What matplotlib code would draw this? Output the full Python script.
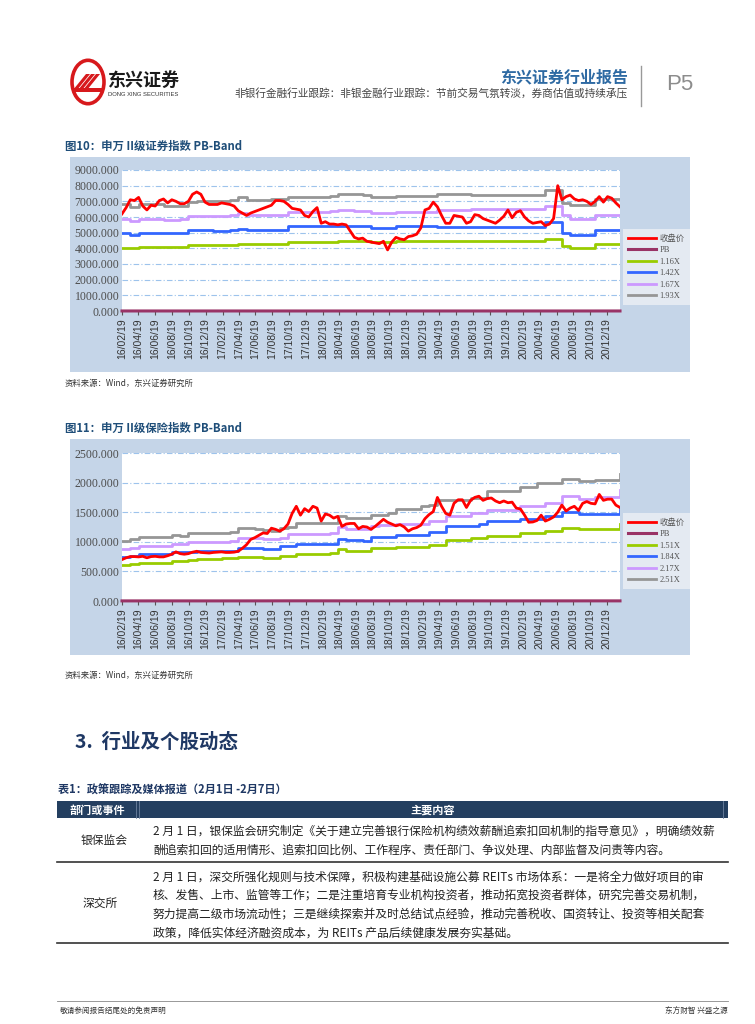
import pandas as pd
import matplotlib
matplotlib.use('Agg')
import matplotlib.pyplot as plt
from matplotlib.patches import Rectangle, Circle, Polygon
from matplotlib.lines import Line2D

plt.rcParams['font.family'] = ['Noto Sans CJK SC', 'DejaVu Sans']

W, H = 755, 1024

# ---- data ----
start_date = '2016-02-19'
end_date = '2021-02-05'
tick_labels = ['16/02/19', '16/04/19', '16/06/19', '16/08/19', '16/10/19', '16/12/19',
               '17/02/19', '17/04/19', '17/06/19', '17/08/19', '17/10/19', '17/12/19',
               '18/02/19', '18/04/19', '18/06/19', '18/08/19', '18/10/19', '18/12/19',
               '19/02/19', '19/04/19', '19/06/19', '19/08/19', '19/10/19', '19/12/19',
               '20/02/19', '20/04/19', '20/06/19', '20/08/19', '20/10/19', '20/12/19']
legend1 = ['收盘价', 'PB', '1.16X', '1.42X', '1.67X', '1.93X']
legend2 = ['收盘价', 'PB', '1.51X', '1.84X', '2.17X', '2.51X']

# chart 1: securities index (half-month samples)
close1 = [6200, 6600, 7100, 7050, 7250, 6700, 6450, 6750, 6700, 7050,
          7150, 6900, 7100, 7000, 6850, 6850, 7000, 7450, 7600, 7450,
          6950, 6800, 6800, 6800, 6900, 6850, 6800, 6700, 6400, 6250,
          6100, 6250, 6350, 6450, 6550, 6650, 6750, 7050, 7050, 7000,
          6800, 6550, 6500, 6450, 6100, 6000, 6350, 6600, 5600, 5700,
          5550, 5550, 5500, 5550, 5500, 5100, 4700, 4600, 4650, 4450,
          4400, 4350, 4300, 4450, 3900, 4400, 4700, 4600, 4550, 4750,
          4800, 4900, 5300, 6450, 6550, 6950, 6650, 6100, 5600, 5600,
          6100, 6050, 6000, 5600, 5700, 6150, 6100, 5900, 5800, 5700,
          5600, 5800, 6050, 6450, 5950, 6300, 6400, 6000, 5750, 5600,
          5650, 5700, 5450, 5550, 5900, 8000, 7100, 7300, 7400, 7150,
          7050, 7100, 7000, 6800, 7000, 7300, 6950, 7300, 7200, 6900,
          6650]
pb1 = [1.77, 1.98, 1.92, 1.99, 1.94, 1.89, 1.65, 1.55, 1.48, 1.41, 1.23,
       1.40, 1.35, 1.55, 1.53, 1.50, 1.64, 1.79, 1.83, 1.78, 1.93]
# monthly band values
band1_116 = [4050, 4000, 4100, 4100, 4100, 4100, 4100, 4100, 4200, 4200,
             4200, 4200, 4200, 4200, 4300, 4300, 4300, 4300, 4300, 4300,
             4400, 4400, 4400, 4400, 4400, 4400, 4500, 4500, 4500, 4500,
             4400, 4400, 4400, 4450, 4450, 4450, 4450, 4450, 4450, 4450,
             4450, 4450, 4450, 4450, 4450, 4450, 4450, 4450, 4450, 4450,
             4450, 4600, 4600, 4150, 4050, 4050, 4050, 4250, 4250, 4250,
             4250]
band1_142 = [4950, 4850, 5000, 5000, 5000, 4980, 4980, 4980, 5150, 5150,
             5150, 5100, 5100, 5150, 5250, 5200, 5200, 5200, 5200, 5200,
             5400, 5400, 5400, 5400, 5400, 5420, 5450, 5450, 5420, 5400,
             5300, 5300, 5300, 5400, 5400, 5400, 5400, 5400, 5350, 5350,
             5350, 5350, 5350, 5350, 5350, 5350, 5350, 5350, 5350, 5350,
             5350, 5650, 5650, 5000, 4850, 4850, 4850, 5200, 5200, 5200,
             5200]
band1_167 = [5900, 5750, 5850, 5850, 5850, 5800, 5800, 5850, 6050, 6050,
             6050, 6050, 6050, 6100, 6250, 6150, 6150, 6150, 6150, 6150,
             6350, 6350, 6350, 6350, 6350, 6400, 6450, 6450, 6400, 6400,
             6250, 6250, 6250, 6350, 6350, 6350, 6350, 6350, 6450, 6450,
             6450, 6450, 6500, 6500, 6500, 6500, 6500, 6500, 6500, 6500,
             6500, 6700, 6700, 6100, 5850, 5850, 5850, 6150, 6150, 6150,
             6150]
band1_193 = [6800, 6650, 6800, 6800, 6800, 6700, 6700, 6700, 6950, 7000,
             7000, 7000, 7000, 7100, 7250, 7100, 7100, 7100, 7150, 7150,
             7300, 7300, 7300, 7300, 7300, 7350, 7450, 7450, 7450, 7400,
             7250, 7250, 7250, 7350, 7350, 7350, 7350, 7350, 7500, 7500,
             7500, 7450, 7400, 7400, 7400, 7400, 7400, 7400, 7400, 7400,
             7400, 7700, 7700, 6900, 6750, 6750, 6750, 7150, 7150, 7150,
             7150]

# chart 2: insurance index (half-month samples)
close2 = [700, 730, 750, 750, 745, 755, 730, 750, 755, 745,
          745, 765, 790, 830, 800, 790, 800, 825, 840, 820,
          815, 810, 820, 825, 830, 820, 820, 825, 840, 890,
          950, 1040, 1070, 1110, 1150, 1140, 1230, 1210, 1180, 1220,
          1300, 1480, 1600, 1450, 1560, 1510, 1600, 1570, 1350, 1470,
          1450, 1400, 1430, 1260, 1300, 1310, 1310, 1220, 1260, 1250,
          1210, 1260, 1320, 1380, 1330, 1300, 1270, 1290, 1250, 1180,
          1220, 1240, 1280, 1390, 1460, 1510, 1750, 1600, 1480, 1450,
          1650, 1710, 1710, 1580, 1700, 1750, 1770, 1700, 1730, 1740,
          1690, 1660, 1690, 1660, 1670, 1570, 1555, 1450, 1330, 1335,
          1360, 1450, 1350, 1380, 1420, 1500, 1620, 1520, 1570, 1600,
          1530, 1650, 1680, 1650, 1640, 1800, 1700, 1720, 1720, 1620,
          1580]
pb2 = [1.70, 1.75, 1.85, 1.80, 1.75, 2.00, 2.40, 2.90, 2.60, 2.30, 2.10,
       2.30, 2.60, 2.50, 2.30, 1.90, 2.00, 2.10, 2.20, 2.30, 2.20]
band2_151 = [610, 625, 650, 650, 650, 650, 680, 680, 700, 705,
             710, 715, 720, 725, 740, 740, 735, 725, 720, 755,
             760, 800, 800, 800, 800, 805, 870, 850, 845, 840,
             890, 890, 890, 910, 910, 910, 910, 940, 940, 1030,
             1030, 1030, 1060, 1060, 1100, 1100, 1100, 1100, 1150, 1150,
             1150, 1190, 1190, 1230, 1230, 1210, 1210, 1220, 1220, 1220,
             1300]
band2_184 = [750, 760, 790, 790, 790, 790, 830, 830, 835, 840,
             840, 845, 845, 850, 900, 895, 890, 880, 880, 925,
             935, 960, 960, 960, 960, 965, 1050, 1030, 1025, 1020,
             1080, 1080, 1080, 1110, 1110, 1110, 1120, 1170, 1170, 1260,
             1260, 1260, 1260, 1300, 1350, 1350, 1350, 1350, 1390, 1390,
             1390, 1430, 1430, 1500, 1500, 1475, 1475, 1475, 1475, 1475,
             1570]
band2_217 = [880, 900, 930, 930, 930, 930, 960, 960, 990, 990,
             995, 1000, 1005, 1010, 1070, 1065, 1060, 1045, 1040, 1070,
             1130, 1130, 1135, 1140, 1140, 1150, 1250, 1220, 1215, 1210,
             1260, 1280, 1280, 1300, 1300, 1300, 1300, 1350, 1350, 1440,
             1440, 1440, 1480, 1480, 1540, 1540, 1540, 1540, 1600, 1600,
             1600, 1650, 1650, 1780, 1780, 1720, 1720, 1760, 1760, 1760,
             1870]
band2_251 = [1020, 1050, 1080, 1075, 1075, 1075, 1110, 1090, 1145, 1150,
             1150, 1150, 1155, 1160, 1230, 1225, 1215, 1200, 1185, 1230,
             1250, 1320, 1320, 1320, 1320, 1325, 1440, 1400, 1400, 1400,
             1450, 1450, 1480, 1550, 1550, 1550, 1600, 1630, 1700, 1700,
             1700, 1700, 1740, 1740, 1850, 1850, 1850, 1850, 1920, 1920,
             1990, 1990, 1990, 2060, 2060, 2030, 2030, 2040, 2040, 2040,
             2150]

colors = ['#ff0000', '#993366', '#99cc00', '#3366ff', '#cc99ff', '#969696']


def fx(x):
    return x / W


def fy(y):
    return 1 - y / H


fig = plt.figure(figsize=(W / 100, H / 100), dpi=100)


def txt(x, y, s, **kw):
    kw.setdefault('va', 'center')
    fig.text(fx(x), fy(y), s, **kw)


def rect(x0, y0, x1, y1, **kw):
    fig.patches.append(Rectangle((fx(x0), fy(y1)), (x1 - x0) / W, (y1 - y0) / H,
                                 transform=fig.transFigure, **kw))


def hline(x0, x1, y, **kw):
    fig.add_artist(Line2D([fx(x0), fx(x1)], [fy(y), fy(y)], transform=fig.transFigure, **kw))


def vline(x, y0, y1, **kw):
    fig.add_artist(Line2D([fx(x), fx(x)], [fy(y0), fy(y1)], transform=fig.transFigure, **kw))


def pb_band(box, area, leg_y, close, pb, bands, labels, ymax, ystep):
    rect(*box, facecolor='#c5d5e8', edgecolor='none', zorder=-5)
    ax = fig.add_axes([fx(area[0]), fy(area[3]), (area[2] - area[0]) / W, (area[3] - area[1]) / H])
    ax.set_zorder(1)
    ax.set_facecolor('white')
    d_close = pd.date_range(start_date, end_date, periods=len(close))
    d_pb = pd.date_range(start_date, end_date, periods=len(pb))
    handles = []
    handles += ax.plot(d_close, close, color=colors[0], lw=2.0, zorder=5)
    handles += ax.plot(d_pb, pb, color=colors[1], lw=2.2, zorder=4, clip_on=False)
    for band, c in zip(bands, colors[2:]):
        d_band = pd.date_range(start_date, end_date, periods=len(band))
        handles += ax.plot(d_band, band, color=c, lw=2.0, drawstyle='steps-post', zorder=3)
    ax.set_xlim(pd.Timestamp(start_date), pd.Timestamp(end_date))
    ax.set_ylim(0, ymax)
    yt = list(range(0, ymax + 1, ystep))
    ax.set_yticks(yt)
    ax.set_yticklabels(['%.3f' % v for v in yt], family='Liberation Serif', fontsize=8.5, color='#4d4d4d')
    ax.yaxis.grid(True, linestyle=(0, (5, 2, 1, 2)), color='#9dc3ec', lw=0.8)
    ax.set_axisbelow(True)
    ticks = pd.to_datetime(tick_labels, format='%y/%m/%d')
    ax.set_xticks(ticks)
    ax.set_xticklabels(tick_labels, rotation=90, family='Liberation Sans', fontsize=7.5, color='#333333')
    ax.tick_params(axis='x', direction='out', length=3, width=0.8, color='#555555', pad=2)
    ax.tick_params(axis='y', length=0, pad=2)
    for s in ax.spines.values():
        s.set_visible(False)
    leg = fig.legend(handles, labels, loc='upper left', bbox_to_anchor=(fx(623), fy(leg_y)),
                     frameon=True, fancybox=False, facecolor='#e4eaf2', edgecolor='none', framealpha=1,
                     prop={'family': ['Liberation Serif', 'Noto Sans CJK SC'], 'size': 6},
                     labelcolor='#555555', handlelength=3.3, handletextpad=0.5,
                     labelspacing=0.42, borderpad=0.6, borderaxespad=0)
    leg.set_zorder(10)
    return ax


# ---- header ----
fig.patches.append(Circle((fx(88), fy(82)), 16 / W, transform=fig.transFigure,
                          facecolor='white', edgecolor='#d7191c', lw=2.6))
for dx in [0, 5, 10]:
    fig.patches.append(Polygon([(fx(73 + dx), fy(90)), (fx(86 + dx), fy(74)), (fx(90 + dx), fy(74)),
                                (fx(77 + dx), fy(90))], closed=True, transform=fig.transFigure,
                               facecolor='#d7191c', edgecolor='none'))
rect(74, 88, 103, 92, facecolor='#d7191c', edgecolor='none')
txt(108, 80, '东兴证券', fontsize=13, fontweight='bold', color='#1a1a1a')
txt(108, 95, 'DONG XING SECURITIES', fontsize=4.2, family='Liberation Sans', color='#333333')
txt(628, 77, '东兴证券行业报告', fontsize=11.5, fontweight='bold', color='#2e6aa3', ha='right')
txt(628, 93, '非银行金融行业跟踪：非银金融行业跟踪：节前交易气氛转淡，券商估值或持续承压',
    fontsize=7.7, color='#444444', ha='right')
vline(641, 66, 106, color='#999999', lw=1.0)
txt(680, 84, 'P5', fontsize=16, color='#8c8c8c', ha='center', family='Liberation Sans')

# ---- chart 1 ----
txt(65, 146, '图10：申万 II级证券指数 PB-Band', fontsize=8.2, fontweight='bold', color='#1f4e79')
pb_band((70, 157, 690, 372), (122, 170, 620, 311), 229, close1, pb1,
        [band1_116, band1_142, band1_167, band1_193], legend1, 9000, 1000)
txt(65, 383, '资料来源：Wind，东兴证券研究所', fontsize=6, color='#333333', style='italic')

# ---- chart 2 ----
txt(65, 428, '图11：申万 II级保险指数 PB-Band', fontsize=8.2, fontweight='bold', color='#1f4e79')
pb_band((70, 439, 690, 655), (122, 453, 620, 601), 513, close2, pb2,
        [band2_151, band2_184, band2_217, band2_251], legend2, 2500, 500)
txt(65, 675, '资料来源：Wind，东兴证券研究所', fontsize=6, color='#333333', style='italic')

# ---- section + table ----
txt(75, 742, '3.  行业及个股动态', fontsize=14, fontweight='bold', color='#1f3864')
txt(58, 790, '表1：政策跟踪及媒体报道（2月1日 -2月7日）', fontsize=8, fontweight='bold', color='#1f3864')
rect(57, 801, 728, 818, facecolor='#243f60', edgecolor='none')
vline(136, 801, 818, color='#6d83a0', lw=0.6)
vline(139, 801, 818, color='#6d83a0', lw=0.6)
vline(723, 801, 818, color='#6d83a0', lw=0.6)
txt(97, 810, '部门或事件', fontsize=8, fontweight='bold', color='white', ha='center')
txt(433, 810, '主要内容', fontsize=8, fontweight='bold', color='white', ha='center')

body = dict(fontsize=8.5, color='#222222')
txt(104, 840, '银保监会', ha='center', **body)
txt(153, 831, '2 月 1 日，银保监会研究制定《关于建立完善银行保险机构绩效薪酬追索扣回机制的指导意见》，明确绩效薪', **body)
txt(153, 850, '酬追索扣回的适用情形、追索扣回比例、工作程序、责任部门、争议处理、内部监督及问责等内容。', **body)
hline(57, 728, 862, color='#333333', lw=1.2)
txt(100, 904, '深交所', ha='center', **body)
txt(153, 877, '2 月 1 日，深交所强化规则与技术保障，积极构建基础设施公募 REITs 市场体系：一是将全力做好项目的审', **body)
txt(153, 896, '核、发售、上市、监管等工作；二是注重培育专业机构投资者，推动拓宽投资者群体，研究完善交易机制，', **body)
txt(153, 915, '努力提高二级市场流动性；三是继续探索并及时总结试点经验，推动完善税收、国资转让、投资等相关配套', **body)
txt(153, 933, '政策，降低实体经济融资成本，为 REITs 产品后续健康发展夯实基础。', **body)
hline(57, 728, 943, color='#333333', lw=1.2)

# ---- footer ----
hline(57, 728, 1001, color='#888888', lw=0.6)
txt(60, 1011, '敬请参阅报告结尾处的免责声明', fontsize=5.5, color='#333333')
txt(728, 1011, '东方财智 兴盛之源', fontsize=5.5, color='#333333', ha='right')

fig.savefig('out.png', dpi=100)
